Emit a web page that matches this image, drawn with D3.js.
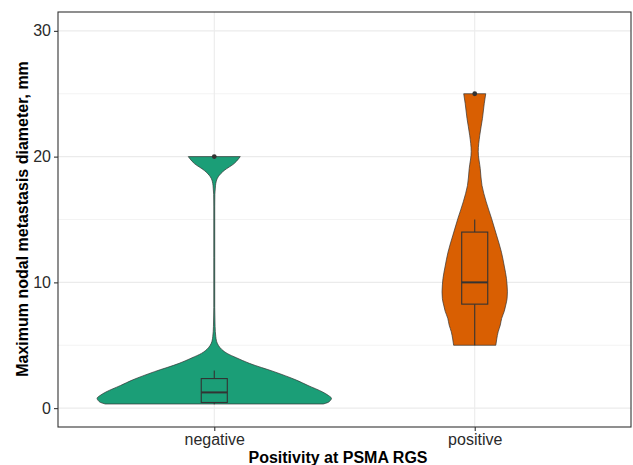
<!DOCTYPE html>
<html>
<head>
	<meta charset="utf-8">
	<script src="https://d3js.org/d3.v7.min.js"></script>
	<style>
		body { margin: 0; background: #fff; }
		text { font-family: "Liberation Sans", Arial, sans-serif; }
	</style>
</head>
<body>
	<svg width="633" height="465"></svg>
	<script>
		const groups = ["negative", "positive"];
		const colors = ["#1b9e77", "#d95f02"];

		// violin outlines: value (mm) and relative half-width
		const negValues = [0.33, 0.45, 0.6, 0.78, 1.0, 1.28, 1.8, 2.23, 2.9, 3.56, 4.0, 4.35, 4.8, 5.15, 5.68, 6.5, 8, 12, 16, 17, 17.5, 17.87, 18.4, 18.9, 19.45, 19.8, 20.0];
		const negWidths = [0.93, 0.97, 0.99, 1.0, 0.975, 0.925, 0.80, 0.70, 0.51, 0.30, 0.19, 0.11, 0.05, 0.026, 0.013, 0.007, 0.004, 0.004, 0.004, 0.005, 0.009, 0.013, 0.034, 0.085, 0.17, 0.205, 0.222];
		const posValues = [5.0, 5.5, 6.07, 6.6, 7.14, 7.7, 8.2, 8.7, 9.25, 9.8, 10.3, 11.3, 12.4, 13.7, 15.1, 16.4, 17.7, 19.06, 20.4, 21.7, 23.04, 24.2, 25.0];
		const posWidths = [0.18, 0.188, 0.20, 0.218, 0.23, 0.252, 0.265, 0.276, 0.279, 0.276, 0.271, 0.252, 0.228, 0.188, 0.143, 0.098, 0.062, 0.047, 0.03, 0.043, 0.066, 0.081, 0.094];

		// boxplot stats per group
		const whiskerLow = [0.3, 5];
		const q1 = [0.45, 8.27];
		const median = [1.25, 10];
		const q3 = [2.35, 14];
		const whiskerHigh = [3, 15];
		const outliers = [[20], [25]];

		const yTicks = [0, 10, 20, 30];
		const yMinor = [5, 15, 25];

		const svg = d3.select("svg");
		const panel = {left: 58, right: 631, top: 12, bottom: 427};

		const x = d3.scalePoint().domain(groups).range([panel.left, panel.right]).padding(0.6);
		const y = d3.scaleLinear().domain([-1.5, 31.5]).range([panel.bottom, panel.top]);
		const w = d3.scaleLinear().domain([0, 1]).range([0, 0.45 * x.step()]);

		const g = svg.append("g");

		// grid
		g.selectAll(".minor").data(yMinor).enter().append("line")
			.attr("x1", panel.left).attr("x2", panel.right)
			.attr("y1", d => y(d)).attr("y2", d => y(d))
			.attr("stroke", "#ebebeb").attr("stroke-width", 0.6);
		g.selectAll(".major").data(yTicks).enter().append("line")
			.attr("x1", panel.left).attr("x2", panel.right)
			.attr("y1", d => y(d)).attr("y2", d => y(d))
			.attr("stroke", "#ebebeb").attr("stroke-width", 1.1);
		g.selectAll(".vmajor").data(groups).enter().append("line")
			.attr("x1", d => x(d)).attr("x2", d => x(d))
			.attr("y1", panel.top).attr("y2", panel.bottom)
			.attr("stroke", "#ebebeb").attr("stroke-width", 1.1);

		// violins
		const profiles = [
			negValues.map((v, i) => ({v: v, w: negWidths[i]})),
			posValues.map((v, i) => ({v: v, w: posWidths[i]}))
		];
		groups.forEach((grp, i) => {
			const cx = x(grp);
			g.append("path")
				.datum(profiles[i])
				.attr("fill", colors[i])
				.attr("stroke", "#333")
				.attr("stroke-width", 0.7)
				.attr("d", d3.area()
					.curve(d3.curveMonotoneY)
					.y(d => y(d.v))
					.x0(d => cx - w(d.w))
					.x1(d => cx + w(d.w)));
		});

		// boxplots
		const boxHalf = 0.05 * x.step();
		groups.forEach((grp, i) => {
			const cx = x(grp);
			const b = g.append("g").attr("stroke", "#333").attr("fill", "none");
			b.append("line").attr("x1", cx).attr("x2", cx)
				.attr("y1", y(whiskerLow[i])).attr("y2", y(q1[i])).attr("stroke-width", 1.1);
			b.append("line").attr("x1", cx).attr("x2", cx)
				.attr("y1", y(q3[i])).attr("y2", y(whiskerHigh[i])).attr("stroke-width", 1.1);
			b.append("rect")
				.attr("x", cx - boxHalf).attr("width", 2 * boxHalf)
				.attr("y", y(q3[i])).attr("height", y(q1[i]) - y(q3[i]))
				.attr("stroke-width", 1.1);
			b.append("line").attr("x1", cx - boxHalf).attr("x2", cx + boxHalf)
				.attr("y1", y(median[i])).attr("y2", y(median[i])).attr("stroke-width", 2);
			g.selectAll(".out" + i).data(outliers[i]).enter().append("circle")
				.attr("cx", cx).attr("cy", d => y(d)).attr("r", 2.4)
				.attr("fill", "#333");
		});

		// panel border
		g.append("rect")
			.attr("x", panel.left).attr("y", panel.top)
			.attr("width", panel.right - panel.left).attr("height", panel.bottom - panel.top)
			.attr("fill", "none").attr("stroke", "#333").attr("stroke-width", 1.1);

		// axes
		const yAxis = svg.append("g")
			.attr("transform", `translate(${panel.left},0)`)
			.call(d3.axisLeft(y).tickValues(yTicks).tickSize(4).tickPadding(3));
		const xAxis = svg.append("g")
			.attr("transform", `translate(0,${panel.bottom})`)
			.call(d3.axisBottom(x).tickSize(4).tickPadding(3));
		[yAxis, xAxis].forEach(a => {
			a.select(".domain").remove();
			a.selectAll(".tick line").attr("stroke", "#333").attr("stroke-width", 1.1);
			a.selectAll(".tick text")
				.attr("fill", "#2a2a2a")
				.style("font-size", "16px")
				.style("font-family", "\"Liberation Sans\", Arial, sans-serif");
		});

		// titles
		svg.append("text")
			.attr("x", 338).attr("y", 463)
			.attr("text-anchor", "middle")
			.style("font-size", "16px").style("font-weight", "bold")
			.text("Positivity at PSMA RGS");
		svg.append("text")
			.attr("transform", "translate(27.5,219) rotate(-90)")
			.attr("text-anchor", "middle")
			.style("font-size", "16px").style("font-weight", "bold")
			.text("Maximum nodal metastasis diameter, mm");
	</script>
</body>
</html>
